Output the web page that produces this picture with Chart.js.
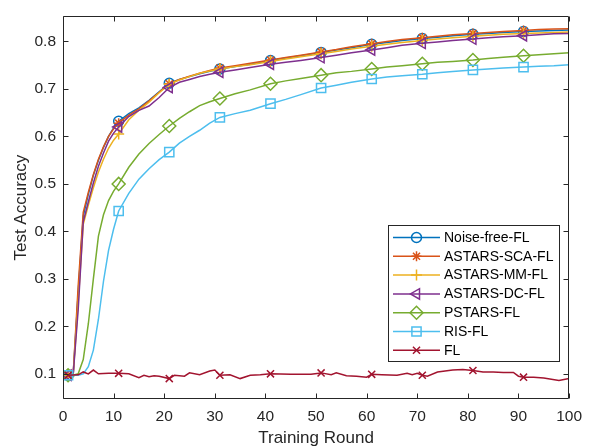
<!DOCTYPE html>
<html>
<head>
<meta charset="utf-8">
<script src="https://cdn.jsdelivr.net/npm/chart.js@4.4.1/dist/chart.umd.min.js"></script>
<style>
  html, body { margin: 0; padding: 0; background: #fff; }
  #wrap { width: 590px; height: 446px; }
</style>
</head>
<body>
<div id="wrap"><canvas id="accChart" width="590" height="446"></canvas></div>
<script>
const rounds = [1, 2, 3, 4, 5, 6, 7, 8, 9, 10, 11, 13, 15, 17, 19, 21, 23, 25, 27, 29, 31, 34, 37, 41, 44, 47, 51, 54, 57, 61, 64, 67, 71, 74, 77, 81, 84, 87, 91, 94, 97, 100];
const markerRounds = [1, 11, 21, 31, 41, 51, 61, 71, 81, 91];

const noiseFree = [0.097, 0.097, 0.270, 0.432, 0.478, 0.518, 0.550, 0.577, 0.600, 0.618, 0.632, 0.648, 0.660, 0.676, 0.694, 0.712, 0.720, 0.726, 0.732, 0.737, 0.742, 0.747, 0.752, 0.760, 0.765, 0.770, 0.777, 0.782, 0.787, 0.794, 0.798, 0.802, 0.806, 0.809, 0.812, 0.815, 0.817, 0.819, 0.821, 0.822, 0.823, 0.824];
const astarsSca = [0.097, 0.097, 0.285, 0.440, 0.482, 0.520, 0.552, 0.578, 0.600, 0.616, 0.628, 0.645, 0.658, 0.675, 0.693, 0.711, 0.720, 0.727, 0.733, 0.739, 0.744, 0.749, 0.754, 0.761, 0.766, 0.771, 0.778, 0.783, 0.789, 0.795, 0.800, 0.804, 0.808, 0.811, 0.814, 0.817, 0.819, 0.821, 0.823, 0.825, 0.826, 0.827];
const astarsMm = [0.097, 0.097, 0.250, 0.415, 0.455, 0.492, 0.525, 0.552, 0.575, 0.592, 0.605, 0.635, 0.655, 0.672, 0.692, 0.710, 0.719, 0.726, 0.733, 0.738, 0.742, 0.747, 0.751, 0.758, 0.763, 0.768, 0.774, 0.779, 0.784, 0.790, 0.794, 0.798, 0.802, 0.805, 0.808, 0.811, 0.813, 0.815, 0.817, 0.818, 0.819, 0.820];
const astarsDc = [0.097, 0.097, 0.235, 0.420, 0.462, 0.502, 0.537, 0.565, 0.590, 0.607, 0.620, 0.642, 0.655, 0.664, 0.682, 0.703, 0.714, 0.720, 0.726, 0.731, 0.735, 0.740, 0.745, 0.752, 0.756, 0.760, 0.766, 0.771, 0.776, 0.782, 0.787, 0.792, 0.796, 0.799, 0.802, 0.805, 0.808, 0.810, 0.812, 0.814, 0.816, 0.817];
const pstars = [0.097, 0.097, 0.100, 0.130, 0.205, 0.300, 0.390, 0.435, 0.465, 0.485, 0.500, 0.535, 0.563, 0.585, 0.604, 0.622, 0.638, 0.652, 0.665, 0.673, 0.680, 0.690, 0.698, 0.711, 0.717, 0.722, 0.729, 0.734, 0.737, 0.742, 0.746, 0.749, 0.753, 0.756, 0.758, 0.761, 0.764, 0.767, 0.770, 0.772, 0.774, 0.776];
const ris = [0.097, 0.097, 0.097, 0.100, 0.115, 0.150, 0.215, 0.295, 0.360, 0.405, 0.443, 0.480, 0.510, 0.532, 0.551, 0.567, 0.586, 0.600, 0.613, 0.628, 0.640, 0.648, 0.655, 0.669, 0.678, 0.688, 0.702, 0.708, 0.714, 0.721, 0.725, 0.728, 0.731, 0.734, 0.737, 0.740, 0.742, 0.744, 0.746, 0.748, 0.749, 0.751];

// plain FL wiggles around chance level, read more densely
const flRounds = [1, 3, 4, 5, 6, 7, 9, 11, 13, 15, 16, 17, 18, 19, 21, 22, 24, 25, 27, 29, 30, 31, 33, 35, 37, 39, 41, 45, 49, 51, 53, 54, 56, 58, 60, 61, 63, 66, 68, 69, 70, 71, 72, 74, 77, 79, 81, 83, 85, 87, 89, 90, 91, 93, 95, 98, 100];
const fl = [0.097, 0.098, 0.104, 0.100, 0.108, 0.100, 0.101, 0.101, 0.100, 0.092, 0.097, 0.094, 0.096, 0.095, 0.090, 0.097, 0.095, 0.102, 0.098, 0.106, 0.108, 0.097, 0.098, 0.090, 0.097, 0.098, 0.100, 0.099, 0.099, 0.102, 0.098, 0.102, 0.096, 0.095, 0.093, 0.099, 0.098, 0.097, 0.101, 0.098, 0.101, 0.097, 0.095, 0.104, 0.108, 0.109, 0.107, 0.104, 0.104, 0.103, 0.103, 0.095, 0.093, 0.093, 0.091, 0.086, 0.090];

const xTicks = [0, 10, 20, 30, 40, 50, 60, 70, 80, 90, 100];
const yTicks = [0.1, 0.2, 0.3, 0.4, 0.5, 0.6, 0.7, 0.8];

const FONT = '"Liberation Sans", Arial, Helvetica, sans-serif';
const AXIS_COLOR = '#262626';

function pts(xs, ys) {
    return xs.map((x, i) => ({ x: x, y: ys[i] }));
}

function makeSet(label, xs, ys, color, style, radius, rotation, order) {
    return {
        label: label,
        data: pts(xs, ys),
        borderColor: color,
        backgroundColor: 'rgba(0,0,0,0)',
        borderWidth: 1.5,
        tension: 0,
        pointStyle: style,
        pointRotation: rotation,
        pointBorderColor: color,
        pointBackgroundColor: 'rgba(0,0,0,0)',
        pointBorderWidth: 1.5,
        pointRadius: ctx => markerRounds.includes(ctx.raw.x) ? radius : 0,
        pointHoverRadius: 0,
        order: order
    };
}

const datasets = [
    makeSet('Noise-free-FL', rounds, noiseFree, '#0072BD', 'circle', 5, 0, 7),
    makeSet('ASTARS-SCA-FL', rounds, astarsSca, '#D95319', 'star', 5, 0, 6),
    makeSet('ASTARS-MM-FL', rounds, astarsMm, '#EDB120', 'cross', 5.5, 0, 5),
    makeSet('ASTARS-DC-FL', rounds, astarsDc, '#7E2F8E', 'triangle', 6, -90, 4),
    makeSet('PSTARS-FL', rounds, pstars, '#77AC30', 'rectRot', 6.5, 0, 3),
    makeSet('RIS-FL', rounds, ris, '#4DBEEE', 'rect', 6.5, 0, 2),
    makeSet('FL', flRounds, fl, '#A2142F', 'crossRot', 5, 0, 1)
];

// box around the axes with inward ticks on all four sides
const matlabAxes = {
    id: 'matlabAxes',
    afterDraw(chart) {
        const { ctx, chartArea: a, scales } = chart;
        const L = Math.round(a.left) + 0.5, R = Math.round(a.right) - 0.5;
        const T = Math.round(a.top) + 0.5, B = Math.round(a.bottom) - 0.5;
        const tick = 5;
        ctx.save();
        ctx.strokeStyle = AXIS_COLOR;
        ctx.lineWidth = 1;
        ctx.beginPath();
        ctx.rect(L, T, R - L, B - T);
        xTicks.forEach(v => {
            const px = Math.round(scales.x.getPixelForValue(v)) + 0.5;
            ctx.moveTo(px, B); ctx.lineTo(px, B - tick);
            ctx.moveTo(px, T); ctx.lineTo(px, T + tick);
        });
        yTicks.forEach(v => {
            const py = Math.round(scales.y.getPixelForValue(v)) + 0.5;
            ctx.moveTo(L, py); ctx.lineTo(L + tick, py);
            ctx.moveTo(R, py); ctx.lineTo(R - tick, py);
        });
        ctx.stroke();
        ctx.restore();
    }
};

// legend box in the lower right, MATLAB style
const boxLegend = {
    id: 'boxLegend',
    afterDraw(chart) {
        const { ctx } = chart;
        const left = 388.5, top = 225.5, right = 559.5, bottom = 361.5;
        const rowH = 18.8, firstY = 237.5;
        ctx.save();
        ctx.fillStyle = '#ffffff';
        ctx.fillRect(left, top, right - left, bottom - top);
        ctx.strokeStyle = AXIS_COLOR;
        ctx.lineWidth = 1;
        ctx.strokeRect(left, top, right - left, bottom - top);
        ctx.font = '14px ' + FONT;
        ctx.textBaseline = 'middle';
        ctx.textAlign = 'left';
        chart.data.datasets.forEach((ds, i) => {
            const y = firstY + i * rowH;
            ctx.strokeStyle = ds.borderColor;
            ctx.lineWidth = 1.5;
            ctx.beginPath();
            ctx.moveTo(393, y);
            ctx.lineTo(440, y);
            ctx.stroke();
            const r = ds.pointRadius({ raw: { x: markerRounds[0] } });
            ctx.fillStyle = 'rgba(0,0,0,0)';
            Chart.helpers.drawPoint(ctx, {
                pointStyle: ds.pointStyle,
                rotation: ds.pointRotation,
                radius: r,
                borderWidth: 1.5
            }, 416.5, y);
            ctx.fillStyle = '#000000';
            ctx.fillText(ds.label, 444, y + 0.5);
        });
        ctx.restore();
    }
};

new Chart(document.getElementById('accChart').getContext('2d'), {
    type: 'line',
    data: { datasets: datasets },
    options: {
        responsive: false,
        animation: false,
        devicePixelRatio: 1,
        layout: { padding: { top: 7, right: 19, left: 0, bottom: 0 } },
        plugins: {
            legend: { display: false },
            tooltip: { enabled: false }
        },
        scales: {
            x: {
                type: 'linear',
                min: 0,
                max: 100,
                afterBuildTicks: s => { s.ticks = xTicks.map(v => ({ value: v })); },
                afterFit: s => { s.height = 47; },
                grid: { display: false, drawTicks: false },
                border: { display: false },
                ticks: {
                    autoSkip: false,
                    maxRotation: 0,
                    padding: 8,
                    color: AXIS_COLOR,
                    font: { family: FONT, size: 15.5 }
                },
                title: {
                    display: true,
                    text: 'Training Round',
                    color: AXIS_COLOR,
                    padding: 0,
                    font: { family: FONT, size: 17, lineHeight: 0.9 }
                }
            },
            y: {
                min: 0.047,
                max: 0.853,
                afterBuildTicks: s => { s.ticks = yTicks.map(v => ({ value: v })); },
                afterFit: s => { s.width = 63; },
                grid: { display: false, drawTicks: false },
                border: { display: false },
                ticks: {
                    padding: 7,
                    color: AXIS_COLOR,
                    font: { family: FONT, size: 15.5 },
                    callback: v => v.toFixed(1)
                },
                title: {
                    display: true,
                    text: 'Test Accuracy',
                    color: AXIS_COLOR,
                    padding: 0,
                    font: { family: FONT, size: 17, lineHeight: 2.45 }
                }
            }
        }
    },
    plugins: [matlabAxes, boxLegend]
});
</script>
</body>
</html>
